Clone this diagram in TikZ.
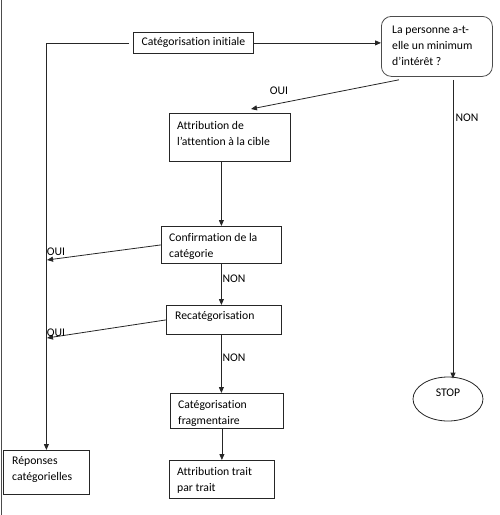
\documentclass[tikz,border=0pt]{standalone}
\usepackage{fontspec}
\setmainfont{Carlito}[Ligatures={NoCommon}]
\usetikzlibrary{shapes,arrows.meta,positioning,calc}

\tikzset{
box/.style={draw=black!85, line width=0.8pt, rectangle, anchor=north west, inner sep=0pt},
boxtext/.style={anchor=north west, align=left, inner xsep=8pt, inner ysep=8.5pt,
  font=\fontsize{11.7}{16}\selectfont},
link/.style={draw=black!85, line width=0.8pt, -{Triangle[length=6pt,width=5pt]}},
answer/.style={inner sep=1pt, font=\fontsize{11.7}{14}\selectfont}
}

\begin{document}
\begin{tikzpicture}[x=1pt,y=-1pt]
\useasboundingbox (0,0) rectangle (500,515);

% page edge on the left
\draw[black!70, line width=0.8pt] (1,0) -- (1,515);

% ================= BOXES =================
\node[box, minimum width=120pt, minimum height=21pt,
font=\fontsize{11.7}{14}\selectfont] (init) at (133,32) {Catégorisation initiale};

\node[box, rounded corners=10pt, draw=black!70, minimum width=111pt, minimum height=60pt,
label={[boxtext, inner xsep=11pt, inner ysep=10pt]north west:La personne a-t-\\elle un minimum\\d’intérêt ?}] (ques) at (381,16) {};

\node[box, minimum width=121pt, minimum height=48pt,
label={[boxtext]north west:Attribution de\\l’attention à la cible}] (attn) at (169,113) {};

\node[box, minimum width=120pt, minimum height=37pt,
label={[boxtext, inner ysep=7.5pt]north west:Confirmation de la\\catégorie}] (conf) at (161,226) {};

\node[box, minimum width=115pt, minimum height=29pt,
label={[boxtext, inner xsep=9pt, inner ysep=6.5pt]north west:Recatégorisation}] (recat) at (166,305) {};

\node[box, minimum width=113pt, minimum height=35pt,
label={[boxtext, inner ysep=7.5pt]north west:Catégorisation\\fragmentaire}] (frag) at (170,393) {};

\node[box, minimum width=105pt, minimum height=38pt,
label={[boxtext, inner ysep=7.5pt]north west:Attribution trait\\par trait}] (trait) at (169,460) {};

\node[box, minimum width=86pt, minimum height=44pt,
label={[boxtext, inner xsep=9pt, inner ysep=6.5pt]north west:Réponses\\catégorielles}] (resp) at (3,450) {};

\node[draw=black!85, line width=0.8pt, ellipse, minimum width=70pt, minimum height=44pt,
text depth=12pt, font=\fontsize{11.7}{14}\selectfont] (stop) at (448,399) {STOP};

% ================= CONNECTORS =================
\coordinate (hit1) at (47,260);
\coordinate (hit2) at (47,338);

\draw[link] ([xshift=-4pt]init.west) -| (resp.north);
\draw[link] (init.east) -- (init.east -| ques.west);
\draw[link] ($(ques.south west)+(18,3)$) -- ($(attn.north west)+(82,-4)$);
\draw[link] ($(ques.south -| stop.north)+(5,3)$) -- ($(stop.north)+(5,2)$);
\draw[link] (conf.north |- attn.south) -- (conf.north);
\draw[link] (conf.west) -- (hit1);
\draw[link] (conf.south) -- (conf.south |- recat.north);
\draw[link] (recat.west) -- (hit2);
\draw[link] (conf.south |- recat.south) -- (conf.south |- frag.north);
\draw[link] (trait.north |- frag.south) -- (trait.north);

% ================= ANSWERS =================
\node[answer] (oui0) at (279,91) {OUI};
\node[answer] (non0) at (467,118) {NON};
\node[answer] (oui1) at (56,252) {OUI};
\node[answer] (non1) at (234,279) {NON};
\node[answer] (oui2) at (56,333) {OUI};
\node[answer] (non2) at (234,358) {NON};

\end{tikzpicture}
\end{document}
